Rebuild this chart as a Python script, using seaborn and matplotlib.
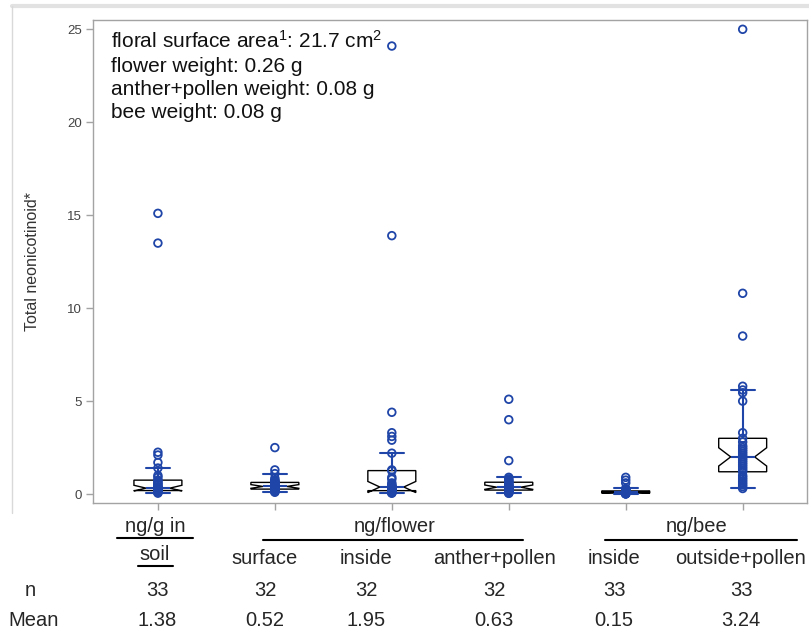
import matplotlib
matplotlib.use("Agg")
import matplotlib.pyplot as plt
import numpy as np
import pandas as pd
import seaborn as sns
from matplotlib.lines import Line2D

# ---- data -------------------------------------------------------------
groups = ["soil", "flower surface", "flower inside", "anther+pollen",
          "bee inside", "bee outside+pollen"]

soil = [15.1, 13.5, 2.25, 2.1, 1.7, 1.4, 1.0, 0.9, 0.75, 0.7,
        0.6, 0.55, 0.5, 0.4, 0.38, 0.35, 0.32, 0.3, 0.28, 0.26,
        0.25, 0.24, 0.22, 0.2, 0.19, 0.18, 0.17, 0.15, 0.14, 0.12,
        0.1, 0.08, 0.05]
flower_surface = [2.5, 1.3, 1.1, 0.85, 0.75, 0.7, 0.68, 0.65, 0.62, 0.6,
                  0.55, 0.5, 0.48, 0.46, 0.44, 0.42, 0.4, 0.38, 0.36, 0.34,
                  0.32, 0.3, 0.28, 0.27, 0.26, 0.25, 0.22, 0.2, 0.18, 0.15,
                  0.12, 0.1]
flower_inside = [24.1, 13.9, 4.4, 3.3, 3.1, 2.9, 2.2, 1.3, 1.25, 0.9,
                 0.8, 0.6, 0.5, 0.45, 0.42, 0.4, 0.36, 0.33, 0.3, 0.28,
                 0.25, 0.22, 0.2, 0.19, 0.17, 0.15, 0.13, 0.12, 0.1, 0.08,
                 0.06, 0.05]
anther_pollen = [5.1, 4.0, 1.8, 0.9, 0.82, 0.75, 0.7, 0.66, 0.63, 0.58,
                 0.52, 0.48, 0.45, 0.42, 0.4, 0.38, 0.36, 0.34, 0.32, 0.3,
                 0.28, 0.27, 0.25, 0.22, 0.2, 0.17, 0.14, 0.12, 0.1, 0.08,
                 0.06, 0.04]
bee_inside = [0.9, 0.75, 0.6, 0.3, 0.25, 0.22, 0.2, 0.18, 0.17, 0.16,
              0.15, 0.14, 0.13, 0.12, 0.12, 0.11, 0.1, 0.1, 0.09, 0.08,
              0.08, 0.07, 0.06, 0.06, 0.05, 0.05, 0.04, 0.04, 0.03, 0.03,
              0.02, 0.01, 0.01]
bee_outside = [25.0, 10.8, 8.5, 5.8, 5.6, 5.45, 5.0, 3.3, 3.0, 2.8,
               2.6, 2.5, 2.4, 2.3, 2.2, 2.1, 2.0, 1.9, 1.8, 1.7,
               1.6, 1.5, 1.4, 1.3, 1.2, 1.0, 0.9, 0.8, 0.7, 0.6,
               0.5, 0.4, 0.3]

n_labels = ["33", "32", "32", "32", "33", "33"]
mean_labels = ["1.38", "0.52", "1.95", "0.63", "0.15", "3.24"]
sub_labels = ["surface", "inside", "anther+pollen", "inside", "outside+pollen"]
info_lines = [r"floral surface area$^{1}$: 21.7 cm$^{2}$",
              "flower weight: 0.26 g",
              "anther+pollen weight: 0.08 g",
              "bee weight: 0.08 g"]
y_ticks = [0, 5, 10, 15, 20, 25]

values = [soil, flower_surface, flower_inside, anther_pollen, bee_inside, bee_outside]
df = pd.DataFrame({
    "group": np.repeat(groups, [len(v) for v in values]),
    "value": np.concatenate(values),
})

# ---- style --------------------------------------------------------------
sns.set_theme(style="white")
plt.rcParams["font.family"] = ["Liberation Sans", "DejaVu Sans"]
plt.rcParams["mathtext.fontset"] = "custom"
plt.rcParams["mathtext.rm"] = "Liberation Sans"
plt.rcParams["mathtext.it"] = "Liberation Sans"

BLUE = "#1f45a8"
GRID_GREY = "#a3a3a3"

W, H = 809, 633
fig = plt.figure(figsize=(W / 100, H / 100), dpi=100)
ax = fig.add_axes([93 / W, 1 - 503 / H, (807 - 93) / W, (503 - 20) / H])


def fx(px):
    return px / W


def fy(py):
    return 1 - py / H


# notched boxes with blue whiskers/caps/median
sns.boxplot(data=df, x="group", y="value", order=groups, ax=ax,
            width=0.41, notch=True, showfliers=False, whis=1.5,
            color="white", linecolor="black", linewidth=1.0,
            boxprops=dict(facecolor="white", edgecolor="black", linewidth=1.0),
            whiskerprops=dict(color=BLUE, linewidth=1.5),
            capprops=dict(color=BLUE, linewidth=1.5),
            medianprops=dict(color=BLUE, linewidth=1.5))

# individual observations as open circles
sns.stripplot(data=df, x="group", y="value", order=groups, ax=ax,
              jitter=False, size=5.5, color=BLUE, edgecolor=BLUE,
              linewidth=1.3, zorder=5)
for coll in ax.collections:
    coll.set_facecolor("none")
    coll.set_edgecolor(BLUE)

ax.set_xlim(-0.555, 5.55)
ax.set_ylim(-0.48, 25.5)
ax.set_yticks(y_ticks)
ax.set_yticklabels([str(t) for t in y_ticks])
ax.set_xticks(range(len(groups)))
ax.set_xticklabels([])
ax.set_xlabel("")
ax.set_ylabel("Total neonicotinoid*", fontsize=11.5, color="#333333")
ax.yaxis.set_label_coords(-0.074, 0.5)

ax.tick_params(axis="both", which="major", direction="out", length=5,
               width=1, color=GRID_GREY, left=True, bottom=True)
ax.tick_params(axis="y", labelsize=9.5, labelcolor="#444444", pad=3)
for sp in ax.spines.values():
    sp.set_color(GRID_GREY)
    sp.set_linewidth(1)

# info text block
for i, line in enumerate(info_lines):
    fig.text(fx(111), fy(48 + i * 23.5), line, fontsize=15,
             ha="left", va="baseline", color="#111111")

# outer panel frame
fig.add_artist(Line2D([fx(12), 1.0], [fy(6), fy(6)], color="#e2e2e2", lw=3))
fig.add_artist(Line2D([fx(12), fx(12)], [fy(6), fy(513)], color="#d9d9d9", lw=1))

# category table under the axis
TXT = 14.5
fig.text(fx(155), fy(527), "ng/g in", fontsize=TXT, ha="center", va="center")
fig.add_artist(Line2D([fx(117), fx(193)], [fy(538), fy(538)], color="black", lw=1.5))
fig.text(fx(155), fy(554), "soil", fontsize=TXT, ha="center", va="center")
fig.add_artist(Line2D([fx(138), fx(173)], [fy(566), fy(566)], color="black", lw=1.5))

fig.text(fx(395), fy(527), "ng/flower", fontsize=TXT, ha="center", va="center")
fig.add_artist(Line2D([fx(263), fx(523)], [fy(540), fy(540)], color="black", lw=1.5))
fig.text(fx(697), fy(527), "ng/bee", fontsize=TXT, ha="center", va="center")
fig.add_artist(Line2D([fx(605), fx(797)], [fy(540), fy(540)], color="black", lw=1.5))

sub_x = [265, 366, 494, 614, 741]
for x, lab in zip(sub_x, sub_labels):
    fig.text(fx(x), fy(558), lab, fontsize=TXT, ha="center", va="center")

col_x = [157, 265, 366, 494, 614, 741]
fig.text(fx(30), fy(590), "n", fontsize=TXT, ha="center", va="center")
fig.text(fx(8), fy(621), "Mean", fontsize=TXT, ha="left", va="center")
for x, nl, ml in zip(col_x, n_labels, mean_labels):
    fig.text(fx(x), fy(590), nl, fontsize=TXT, ha="center", va="center")
    fig.text(fx(x), fy(621), ml, fontsize=TXT, ha="center", va="center")

fig.savefig("out.png", dpi=100, facecolor="white")
